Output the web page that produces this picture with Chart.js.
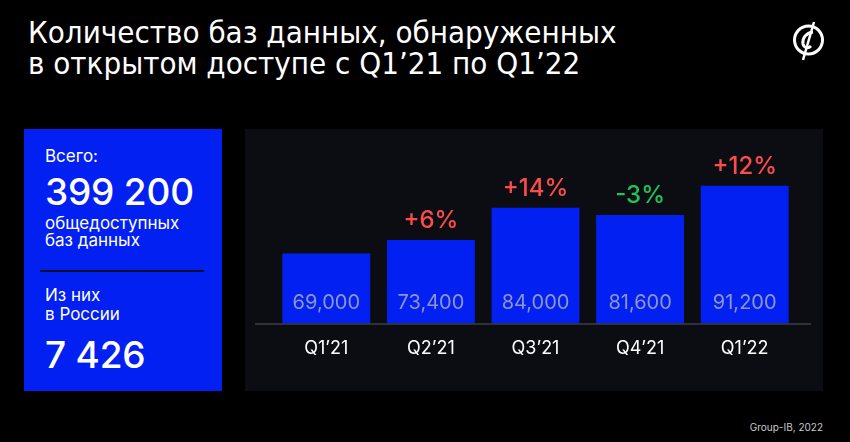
<!DOCTYPE html>
<html>
<head>
<meta charset="utf-8">
<script src="https://cdn.jsdelivr.net/npm/chart.js@4.4.1/dist/chart.umd.min.js"></script>
<style>
  html, body { margin: 0; padding: 0; background: #000; }
  body { width: 850px; height: 442px; position: relative; overflow: hidden; font-family: Inter, "Liberation Sans", Arial, sans-serif; color: #fff; }
  .title { position: absolute; left: 28px; top: 17px; font-family: "Liberation Sans Narrow", "DejaVu Sans Condensed", sans-serif; font-size: 31px; line-height: 31px; }
  .side { position: absolute; left: 24px; top: 129px; width: 198px; height: 262px; background: #0220f2; }
  .side div { position: absolute; left: 21px; white-space: nowrap; }
  .t1 { top: 17px; font-size: 17px; }
  .big { font-size: 37px; font-weight: 500; letter-spacing: -0.2px; }
  .t2 { top: 86px; font-size: 17px; line-height: 17px; }
  .sep { position: absolute; left: 16px !important; top: 141px; width: 164px; height: 2px; background: #0b0f24; }
  .t3 { top: 157px; font-size: 17px; line-height: 19px; }
  .panel { position: absolute; left: 245px; top: 129px; width: 578px; height: 262px; background: #0c0d12; }
  .foot { position: absolute; right: 27px; top: 421px; font-size: 10px; color: #c8c8c8; }
  .logo { position: absolute; left: 790px; top: 20px; }
</style>
</head>
<body>
<div class="title">Количество баз данных, обнаруженных<br>в открытом доступе с Q1’21 по Q1’22</div>
<svg class="logo" width="40" height="44" viewBox="0 0 40 44">
  <circle cx="18.5" cy="20" r="14" fill="none" stroke="#fff" stroke-width="3"/>
  <path d="M23 12 C16 13 12 18 13 24 C14 28 18 29 21 26" fill="none" stroke="#fff" stroke-width="3"/>
  <line x1="24" y1="2" x2="13" y2="40" stroke="#fff" stroke-width="2.5"/>
</svg>
<div class="side">
  <div class="t1">Всего:</div>
  <div class="big" style="top:40px">399 200</div>
  <div class="t2">общедоступных<br>баз данных</div>
  <div class="sep"></div>
  <div class="t3">Из них<br>в России</div>
  <div class="big" style="top:203px">7 426</div>
</div>
<div class="panel"><canvas id="myChart" width="578" height="262"></canvas></div>
<div class="foot">Group-IB, 2022</div>
<script>
const quarters = ['Q1’21', 'Q2’21', 'Q3’21', 'Q4’21', 'Q1’22'];
const databases = [69000, 73400, 84000, 81600, 91200];
const changes = ['', '+6%', '+14%', '-3%', '+12%'];

const labelPlugin = {
    id: 'barLabels',
    afterDatasetsDraw(chart) {
        const c = chart.ctx;
        const bars = chart.getDatasetMeta(0).data;
        const bottom = chart.chartArea.bottom;
        c.save();
        c.textAlign = 'center';
        c.textBaseline = 'middle';
        bars.forEach(function (bar, i) {
            // angka di dalam batang
            c.font = '20px Inter, "Liberation Sans", Arial, sans-serif';
            c.fillStyle = '#8d95c9';
            c.fillText(databases[i].toLocaleString('en-US'), bar.x, bottom - 20);
            // persen perubahan di atas batang
            if (changes[i]) {
                c.font = '500 24px Inter, "Liberation Sans", Arial, sans-serif';
                c.fillStyle = changes[i][0] === '-' ? '#1fc35a' : '#ff4b4b';
                c.fillText(changes[i], bar.x, bar.y - 19);
            }
        });
        // garis dasar
        const yb = bottom + 0.5;
        c.strokeStyle = '#3b3e46';
        c.lineWidth = 1.5;
        c.beginPath();
        c.moveTo(10, yb);
        c.lineTo(chart.width - 12, yb);
        c.stroke();
        c.restore();
    }
};

document.addEventListener("DOMContentLoaded", function () {
    const ctx = document.getElementById('myChart');
    new Chart(ctx, {
        type: 'bar',
        data: {
            labels: quarters,
            datasets: [{
                data: databases,
                backgroundColor: '#0220f2',
                borderWidth: 0,
                barPercentage: 0.84,
                categoryPercentage: 1
            }]
        },
        options: {
            responsive: false,
            animation: false,
            layout: { padding: { left: 29, right: 26, top: 10, bottom: 18 } },
            scales: {
                x: {
                    grid: { display: false, drawTicks: false },
                    border: { display: false },
                    ticks: { color: '#ffffff', padding: 14, font: { size: 18, family: 'Inter, "Liberation Sans", Arial, sans-serif' } }
                },
                y: {
                    display: false,
                    min: 46000,
                    max: 106600
                }
            },
            plugins: {
                legend: { display: false },
                tooltip: { enabled: false }
            }
        },
        plugins: [labelPlugin]
    });
});
</script>
</body>
</html>
